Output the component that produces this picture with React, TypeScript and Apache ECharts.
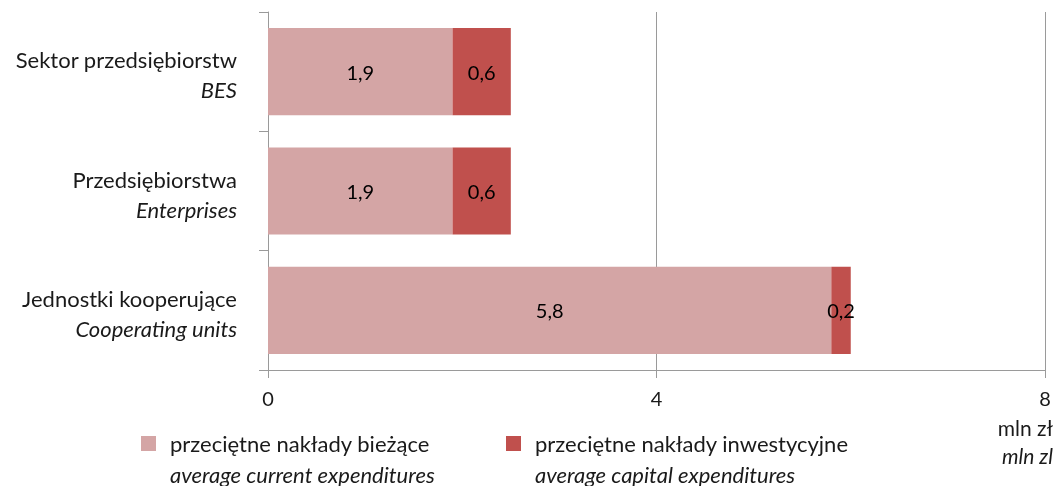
import React, { useEffect, useRef } from "react";
import * as echarts from "echarts";

const categoriesPl = ["Sektor przedsiębiorstw", "Przedsiębiorstwa", "Jednostki kooperujące"];
const categoriesEn = ["BES", "Enterprises", "Cooperating units"];
const seriesNamesPl = ["przeciętne nakłady bieżące", "przeciętne nakłady inwestycyjne"];
const seriesNamesEn = ["average current expenditures", "average capital expenditures"];
const seriesColors = ["#D4A5A5", "#C0504D"];
const currentValues = [1.9, 1.9, 5.8];
const capitalValues = [0.6, 0.6, 0.2];
const xTicks = { min: 0, max: 8, interval: 4 };
const unitPl = "mln zł";
const unitEn = "mln zl";

const FONT = "Lato";
const TEXT = "#1a1a1a";
const AXIS = "#9a9a9a";

const legendIconX = [141, 506];
const legendIconY = 436;
const legendTextGap = 29;
const legendLine1Y = 443;
const legendLine2Y = 474;

export default function App() {
  const ref = useRef<HTMLDivElement>(null);
  useEffect(() => {
    if (!ref.current) return;
    const chart = echarts.init(ref.current, undefined, { renderer: "svg" });
    const fmtLabel = (p: any) => String(p.value).replace(".", ",");
    const legendTexts: any[] = [];
    seriesNamesPl.forEach((name, i) => {
      legendTexts.push({
        type: "text",
        x: legendIconX[i] + legendTextGap,
        y: legendLine1Y,
        silent: true,
        style: { text: name, fontFamily: FONT, fontSize: 22, fill: TEXT, align: "left", verticalAlign: "middle" },
      });
      legendTexts.push({
        type: "text",
        x: legendIconX[i] + legendTextGap,
        y: legendLine2Y,
        silent: true,
        style: {
          text: seriesNamesEn[i],
          fontFamily: FONT,
          fontSize: 22,
          fontStyle: "italic",
          fill: TEXT,
          align: "left",
          verticalAlign: "middle",
        },
      });
    });
    const legendBase = {
      top: legendIconY,
      padding: 0,
      itemWidth: 15,
      itemHeight: 15,
      itemGap: 0,
      icon: "rect",
      formatter: () => "",
    };
    chart.setOption({
      animation: false,
      textStyle: { fontFamily: FONT },
      grid: { left: 268, right: 10, top: 12, bottom: 116, containLabel: false },
      xAxis: {
        type: "value",
        min: xTicks.min,
        max: xTicks.max,
        interval: xTicks.interval,
        axisLine: { show: true, lineStyle: { color: AXIS, width: 1 } },
        axisTick: { show: true, length: 8, lineStyle: { color: AXIS } },
        splitLine: { show: true, lineStyle: { color: AXIS, width: 1 } },
        axisLabel: { fontFamily: FONT, fontSize: 20, color: TEXT, margin: 18 },
        name: `{a|${unitPl}}\n{b|${unitEn}}`,
        nameLocation: "end",
        nameGap: 8,
        nameTextStyle: {
          align: "right",
          verticalAlign: "top",
          padding: [43, 0, 0, 0],
          rich: {
            a: { fontFamily: FONT, fontSize: 21, color: TEXT, lineHeight: 28, align: "right" },
            b: { fontFamily: FONT, fontSize: 21, fontStyle: "italic", color: TEXT, lineHeight: 28, align: "right" },
          },
        },
      },
      yAxis: {
        type: "category",
        inverse: true,
        data: categoriesPl,
        axisLine: { show: true, lineStyle: { color: AXIS, width: 1 } },
        axisTick: { show: true, length: 9, lineStyle: { color: AXIS } },
        axisLabel: {
          margin: 31,
          padding: [6, 0, 0, 0],
          formatter: (v: string) => {
            const i = categoriesPl.indexOf(v);
            return `{a|${v}}\n{b|${categoriesEn[i]}}`;
          },
          rich: {
            a: { fontFamily: FONT, fontSize: 22, color: TEXT, lineHeight: 30, align: "right" },
            b: { fontFamily: FONT, fontSize: 22, fontStyle: "italic", color: TEXT, lineHeight: 30, align: "right" },
          },
        },
      },
      legend: [
        { ...legendBase, data: [seriesNamesPl[0]], left: legendIconX[0] },
        { ...legendBase, data: [seriesNamesPl[1]], left: legendIconX[1] },
      ],
      graphic: legendTexts,
      series: [
        {
          name: seriesNamesPl[0],
          type: "bar",
          stack: "total",
          data: currentValues,
          barCategoryGap: "27%",
          itemStyle: { color: seriesColors[0] },
          label: { show: true, position: "inside", formatter: fmtLabel, fontFamily: FONT, fontSize: 20, color: "#000" },
        },
        {
          name: seriesNamesPl[1],
          type: "bar",
          stack: "total",
          data: capitalValues,
          barCategoryGap: "27%",
          itemStyle: { color: seriesColors[1] },
          label: { show: true, position: "inside", formatter: fmtLabel, fontFamily: FONT, fontSize: 20, color: "#000" },
        },
      ],
    });
    return () => chart.dispose();
  }, []);
  return <div ref={ref} style={{ position: "fixed", left: 0, top: 0, width: 1056, height: 486 }} />;
}
